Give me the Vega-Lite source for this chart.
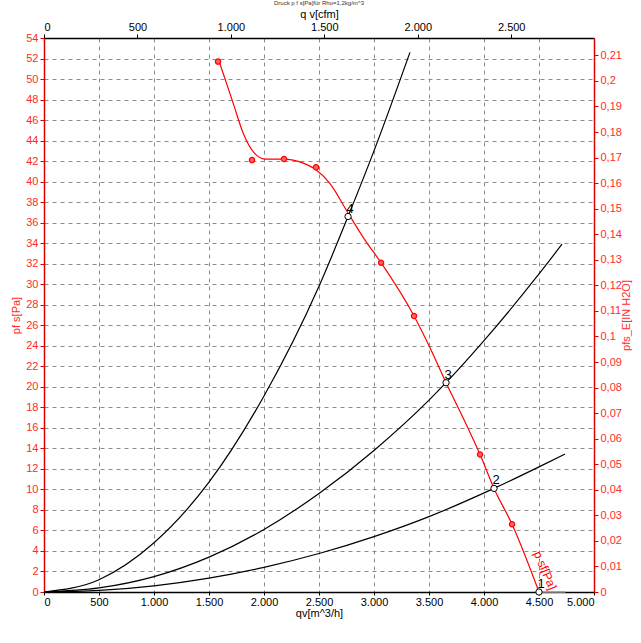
{
  "$schema": "https://vega.github.io/schema/vega-lite/v6.json",
  "width": 550,
  "height": 554,
  "autosize": "none",
  "padding": {"left": 44, "top": 38, "right": 47, "bottom": 51},
  "background": "white",
  "config": {
    "view": {"stroke": null},
    "font": "Liberation Sans",
    "axis": {"labelFont": "Liberation Sans", "titleFont": "Liberation Sans", "labelFontSize": 11, "titleFontSize": 11, "titleFontWeight": "normal"}
  },
  "title": {"text": "Druck p f s[Pa]für Rho=1,2kg/m^3", "fontSize": 6, "fontWeight": "normal", "color": "#333333", "font": "Liberation Sans", "offset": 2},
  "datasets": {
    "fan": [
      {"q": 1591, "p": 51.75}, {"q": 1721, "p": 47.6}, {"q": 1812, "p": 44.7}, {"q": 1903, "p": 42.9},
      {"q": 2009, "p": 42.2}, {"q": 2175, "p": 42.2}, {"q": 2357, "p": 41.8}, {"q": 2479, "p": 41.1},
      {"q": 2600, "p": 39.8}, {"q": 2766, "p": 36.9}, {"q": 2918, "p": 34.3}, {"q": 3064, "p": 32.1},
      {"q": 3364, "p": 26.9}, {"q": 3509, "p": 23.8}, {"q": 3655, "p": 20.4}, {"q": 3827, "p": 16.6},
      {"q": 3964, "p": 13.4}, {"q": 4091, "p": 10.1}, {"q": 4255, "p": 6.6}, {"q": 4500, "p": 0}
    ],
    "markers": [
      {"q": 1582, "p": 51.7}, {"q": 1891, "p": 42.1}, {"q": 2182, "p": 42.2}, {"q": 2473, "p": 41.4},
      {"q": 3064, "p": 32.1}, {"q": 3364, "p": 26.9}, {"q": 3655, "p": 20.4}, {"q": 3964, "p": 13.4}, {"q": 4255, "p": 6.6}
    ],
    "system": [
      {"c": "A", "q": 0, "p": 0}, {"c": "A", "q": 500, "p": 1.2}, {"c": "A", "q": 1000, "p": 4.8}, {"c": "A", "q": 1500, "p": 10.7},
      {"c": "A", "q": 2000, "p": 19.1}, {"c": "A", "q": 2500, "p": 29.8}, {"c": "A", "q": 2764, "p": 36.6}, {"c": "A", "q": 3000, "p": 43.0}, {"c": "A", "q": 3327, "p": 52.6},
      {"c": "B", "q": 0, "p": 0}, {"c": "B", "q": 500, "p": 0.4}, {"c": "B", "q": 1000, "p": 1.5}, {"c": "B", "q": 1500, "p": 3.4},
      {"c": "B", "q": 2000, "p": 6.1}, {"c": "B", "q": 2500, "p": 9.6}, {"c": "B", "q": 3000, "p": 13.8}, {"c": "B", "q": 3500, "p": 18.7},
      {"c": "B", "q": 3655, "p": 20.4}, {"c": "B", "q": 4000, "p": 24.5}, {"c": "B", "q": 4500, "p": 31.0}, {"c": "B", "q": 4709, "p": 33.9},
      {"c": "C", "q": 0, "p": 0}, {"c": "C", "q": 500, "p": 0.15}, {"c": "C", "q": 1000, "p": 0.6}, {"c": "C", "q": 1500, "p": 1.35},
      {"c": "C", "q": 2000, "p": 2.4}, {"c": "C", "q": 2500, "p": 3.75}, {"c": "C", "q": 3000, "p": 5.4}, {"c": "C", "q": 3500, "p": 7.35},
      {"c": "C", "q": 4091, "p": 10.1}, {"c": "C", "q": 4500, "p": 12.2}, {"c": "C", "q": 4736, "p": 13.45}
    ],
    "zero": [{"q": 4500, "p": 0}, {"q": 4740, "p": 0}],
    "ops": [
      {"q": 2764, "p": 36.6, "n": "4"}, {"q": 3655, "p": 20.4, "n": "3"},
      {"q": 4091, "p": 10.1, "n": "2"}, {"q": 4500, "p": 0, "n": "1"}
    ],
    "curvelabel": [{"q": 4555, "p": 2.1, "t": "p sf[Pa]"}],
    "secondary": [{"c": 0, "w": 0}, {"c": 2942.9, "w": 0.21679}]
  },
  "layer": [
    {
      "encoding": {
        "x": {
          "field": "q", "type": "quantitative",
          "scale": {"domain": [0, 5000], "nice": false},
          "axis": {
            "orient": "bottom", "title": "qv[m^3/h]",
            "values": [0, 500, 1000, 1500, 2000, 2500, 3000, 3500, 4000, 4500, 5000],
            "labelExpr": "replace(format(datum.value, ',.0f'), ',', '.')",
            "grid": true, "gridDash": [4, 4], "gridColor": "#8c8c8c", "gridWidth": 1,
            "domainColor": "#000000", "domainWidth": 1.5, "tickColor": "#000000", "tickSize": 3,
            "labelColor": "#000000", "titleColor": "#000000", "labelPadding": 1, "titlePadding": 0
          }
        },
        "y": {
          "field": "p", "type": "quantitative",
          "scale": {"domain": [0, 54], "nice": false},
          "axis": {
            "orient": "left", "title": "pf s[Pa]",
            "values": [0, 2, 4, 6, 8, 10, 12, 14, 16, 18, 20, 22, 24, 26, 28, 30, 32, 34, 36, 38, 40, 42, 44, 46, 48, 50, 52, 54],
            "grid": true, "gridDash": [4, 4], "gridColor": "#8c8c8c", "gridWidth": 1,
            "domainColor": "#e00000", "domainWidth": 1.5, "tickColor": "#e00000", "tickSize": 4,
            "labelColor": "#ff2a2a", "titleColor": "#ff2a2a", "labelPadding": 2, "titlePadding": 4
          }
        }
      },
      "layer": [
        {"data": {"name": "system"}, "mark": {"type": "line", "color": "#000000", "strokeWidth": 1.2, "interpolate": "monotone"}, "encoding": {"detail": {"field": "c"}}},
        {"data": {"name": "zero"}, "mark": {"type": "line", "color": "#999999", "strokeWidth": 1.5}, "encoding": {}},
        {"data": {"name": "fan"}, "mark": {"type": "line", "color": "#ff0000", "strokeWidth": 1.2, "interpolate": "monotone"}, "encoding": {}},
        {"data": {"name": "markers"}, "mark": {"type": "point", "shape": "circle", "filled": true, "color": "#ff6060", "stroke": "#ff0000", "strokeWidth": 1.2, "size": 28, "opacity": 1}, "encoding": {}},
        {"data": {"name": "ops"}, "mark": {"type": "point", "shape": "circle", "filled": true, "fill": "#ffffff", "stroke": "#000000", "strokeWidth": 1, "size": 40, "opacity": 1}, "encoding": {}},
        {"data": {"name": "ops"}, "mark": {"type": "text", "fontSize": 13, "color": "#000000", "dx": 2, "dy": -8, "font": "Liberation Sans"}, "encoding": {"text": {"field": "n"}}},
        {"data": {"name": "curvelabel"}, "mark": {"type": "text", "fontSize": 12, "color": "#ff0000", "angle": 67, "font": "Liberation Sans"}, "encoding": {"text": {"field": "t"}}}
      ]
    },
    {
      "data": {"name": "secondary"},
      "mark": {"type": "point", "opacity": 0},
      "encoding": {
        "x": {
          "field": "c", "type": "quantitative",
          "scale": {"domain": [0, 2942.9], "nice": false},
          "axis": {
            "orient": "top", "title": "q v[cfm]",
            "values": [0, 500, 1000, 1500, 2000, 2500],
            "labelExpr": "replace(format(datum.value, ',.0f'), ',', '.')",
            "grid": false, "domainColor": "#000000", "domainWidth": 1.5, "tickColor": "#000000", "tickSize": 4,
            "labelColor": "#000000", "titleColor": "#000000", "labelPadding": 2, "titlePadding": 2
          }
        },
        "y": {
          "field": "w", "type": "quantitative",
          "scale": {"domain": [0, 0.21679], "nice": false},
          "axis": {
            "orient": "right", "title": "pfs_E[IN H2O]", "titleAngle": 270,
            "values": [0, 0.01, 0.02, 0.03, 0.04, 0.05, 0.06, 0.07, 0.08, 0.09, 0.1, 0.11, 0.12, 0.13, 0.14, 0.15, 0.16, 0.17, 0.18, 0.19, 0.2, 0.21],
            "labelExpr": "replace(format(datum.value, '.2~f'), '.', ',')",
            "grid": false, "domainColor": "#e00000", "domainWidth": 1.5, "tickColor": "#e00000", "tickSize": 4,
            "labelColor": "#ff2a2a", "titleColor": "#ff2a2a", "labelPadding": 2, "titlePadding": 10
          }
        }
      }
    }
  ],
  "resolve": {"scale": {"x": "independent", "y": "independent"}}
}
